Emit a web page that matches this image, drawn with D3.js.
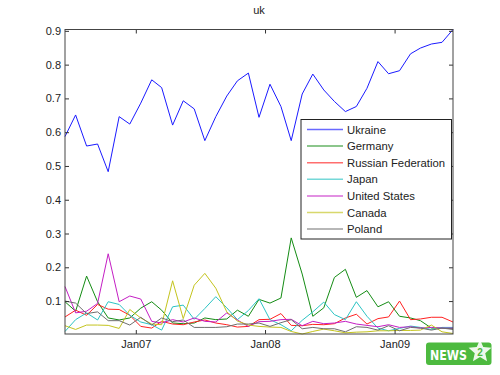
<!DOCTYPE html>
<html>
<head>
<meta charset="utf-8">
<script src="https://cdn.jsdelivr.net/npm/d3@7"></script>
<style>
  body { margin: 0; background: #fff; }
  svg text { font-family: "Liberation Sans", Arial, sans-serif; }
</style>
</head>
<body>
<svg id="chart" width="500" height="375"></svg>
<script>
// monthly values, Jun 2006 - Jun 2009
const months = [
  "2006-06", "2006-07", "2006-08", "2006-09", "2006-10", "2006-11", "2006-12",
  "2007-01", "2007-02", "2007-03", "2007-04", "2007-05", "2007-06", "2007-07",
  "2007-08", "2007-09", "2007-10", "2007-11", "2007-12", "2008-01", "2008-02",
  "2008-03", "2008-04", "2008-05", "2008-06", "2008-07", "2008-08", "2008-09",
  "2008-10", "2008-11", "2008-12", "2009-01", "2009-02", "2009-03", "2009-04",
  "2009-05", "2009-06"
];

const countries = ["Ukraine", "Germany", "Russian Federation", "Japan", "United States", "Canada", "Poland"];

const ukraine = [0.587, 0.651, 0.559, 0.565, 0.483, 0.646, 0.624, 0.686, 0.755, 0.732,
  0.621, 0.693, 0.669, 0.575, 0.646, 0.707, 0.752, 0.775, 0.644, 0.742,
  0.676, 0.575, 0.713, 0.772, 0.725, 0.691, 0.661, 0.676, 0.730, 0.809,
  0.773, 0.782, 0.832, 0.849, 0.861, 0.866, 0.904];

const germany = [0.098, 0.07, 0.174, 0.098, 0.05, 0.044, 0.05, 0.079, 0.098, 0.073,
  0.035, 0.033, 0.035, 0.05, 0.045, 0.047, 0.073, 0.055, 0.105, 0.094,
  0.109, 0.287, 0.18, 0.055, 0.08, 0.17, 0.194, 0.111, 0.131, 0.083,
  0.098, 0.055, 0.05, 0.042, 0.02, 0.02, 0.018];

const russia = [0.053, 0.073, 0.058, 0.09, 0.076, 0.075, 0.058, 0.025, 0.02, 0.04,
  0.032, 0.03, 0.038, 0.044, 0.035, 0.03, 0.023, 0.025, 0.045, 0.046,
  0.063, 0.028, 0.027, 0.031, 0.03, 0.033, 0.05, 0.061, 0.032, 0.048,
  0.053, 0.1, 0.045, 0.047, 0.052, 0.052, 0.038];

const japan = [0.01, 0.045, 0.065, 0.044, 0.098, 0.09, 0.058, 0.038, 0.03, 0.014,
  0.083, 0.088, 0.046, 0.078, 0.113, 0.08, 0.045, 0.072, 0.107, 0.045,
  0.03, 0.012, 0.043, 0.068, 0.097, 0.06, 0.045, 0.098, 0.055, 0.02,
  0.012, 0.019, 0.026, 0.022, 0.016, 0.022, 0.022];

const unitedStates = [0.143, 0.065, 0.07, 0.093, 0.24, 0.098, 0.115, 0.106, 0.04, 0.035,
  0.045, 0.038, 0.05, 0.04, 0.038, 0.065, 0.044, 0.025, 0.039, 0.04,
  0.045, 0.046, 0.027, 0.04, 0.033, 0.035, 0.04, 0.032, 0.028, 0.024,
  0.03, 0.022, 0.024, 0.02, 0.022, 0.02, 0.02];

const canada = [0.027, 0.016, 0.029, 0.029, 0.028, 0.019, 0.075, 0.05, 0.032, 0.03,
  0.16, 0.048, 0.147, 0.182, 0.138, 0.068, 0.041, 0.029, 0.025, 0.023,
  0.022, 0.01, 0.0025, 0.01, 0.017, 0.012, 0.006, 0.008, 0.009, 0.012,
  0.012, 0.013, 0.013, 0.014, 0.029, 0.009, 0.004];

const poland = [0.1, 0.094, 0.063, 0.068, 0.042, 0.042, 0.029, 0.052, 0.029, 0.05,
  0.039, 0.044, 0.022, 0.022, 0.022, 0.024, 0.032, 0.032, 0.035, 0.025,
  0.036, 0.045, 0.018, 0.022, 0.018, 0.018, 0.009, 0.024, 0.022, 0.014,
  0.027, 0.012, 0.022, 0.02, 0.014, 0.02, 0.016];

const yTicks = [0.1, 0.2, 0.3, 0.4, 0.5, 0.6, 0.7, 0.8, 0.9];
const xTickDates = ["2007-01-01", "2008-01-01", "2009-01-01"];
const xTickLabels = ["Jan07", "Jan08", "Jan09"];

const seriesValues = [ukraine, germany, russia, japan, unitedStates, canada, poland];
const colors = ['#1a1aff', '#148c14', '#ff2222', '#2cc4c4', '#c41ec4', '#c4c41e', '#6e6e6e'];

const svg = d3.select('#chart');
const plot = { left: 65, right: 453, top: 29.5, bottom: 334 };

// points sit mid-month
const parseMonth = d3.timeParse('%Y-%m-%d');
const dates = months.map(m => parseMonth(m + '-15'));

const x = d3.scaleTime()
    .domain(d3.extent(dates))
    .range([plot.left, plot.right]);

const y = d3.scaleLinear()
    .domain(d3.extent(seriesValues.flat()))
    .range([plot.bottom, plot.top]);

// plot background
svg.append('rect')
    .attr('x', plot.left).attr('y', plot.top)
    .attr('width', plot.right - plot.left)
    .attr('height', plot.bottom - plot.top)
    .attr('fill', '#fff');

// lines
const line = d3.line()
    .x((d, i) => x(dates[i]))
    .y(d => y(d));

seriesValues.forEach((vals, k) => {
    svg.append('path')
        .datum(vals)
        .attr('d', line)
        .attr('fill', 'none')
        .attr('stroke', colors[k])
        .attr('stroke-width', 1);
});

// axes, ticks pointing inward on all four sides
const tickDates = xTickDates.map(d3.timeParse('%Y-%m-%d'));

const gLeft = svg.append('g')
    .attr('transform', `translate(${plot.left},0)`)
    .call(d3.axisLeft(y).tickValues(yTicks).tickSize(-4).tickPadding(4).tickFormat(d3.format('.1f')));
const gRight = svg.append('g')
    .attr('transform', `translate(${plot.right},0)`)
    .call(d3.axisRight(y).tickValues(yTicks).tickSize(-4).tickFormat(''));
const gBottom = svg.append('g')
    .attr('transform', `translate(0,${plot.bottom})`)
    .call(d3.axisBottom(x).tickValues(tickDates).tickSize(-4).tickPadding(6)
        .tickFormat((d, i) => xTickLabels[i]));
const gTop = svg.append('g')
    .attr('transform', `translate(0,${plot.top})`)
    .call(d3.axisTop(x).tickValues(tickDates).tickSize(-4).tickFormat(''));

[gLeft, gRight, gBottom, gTop].forEach(g => {
    g.select('.domain').remove();
    g.selectAll('line').attr('stroke', '#333');
    g.selectAll('text')
        .attr('fill', '#222')
        .style('font-size', '11px')
        .style('font-family', '"Liberation Sans", Arial, sans-serif');
});

svg.append('rect')
    .attr('x', plot.left).attr('y', plot.top)
    .attr('width', plot.right - plot.left)
    .attr('height', plot.bottom - plot.top)
    .attr('fill', 'none')
    .attr('stroke', '#444')
    .attr('stroke-width', 1);

// title
svg.append('text')
    .attr('x', (plot.left + plot.right) / 2)
    .attr('y', 14)
    .attr('text-anchor', 'middle')
    .attr('fill', '#222')
    .style('font-size', '11px')
    .text('uk');

// legend
const legend = svg.append('g').attr('transform', 'translate(301,119.5)');
legend.append('rect')
    .attr('width', 150.5)
    .attr('height', 119.5)
    .attr('fill', '#fff')
    .attr('stroke', '#222')
    .attr('stroke-width', 1);

countries.forEach((name, k) => {
    const ly = 10 + k * 16.6;
    legend.append('line')
        .attr('x1', 6).attr('x2', 42)
        .attr('y1', ly).attr('y2', ly)
        .attr('stroke', colors[k])
        .attr('stroke-width', 1.5)
        .attr('opacity', 0.65);
    legend.append('text')
        .attr('x', 46)
        .attr('y', ly)
        .attr('dy', '0.36em')
        .attr('fill', '#222')
        .style('font-size', '11.3px')
        .text(name);
});

// NEWS badge in the corner
const badge = svg.append('g').attr('transform', 'translate(426,342.5)');
badge.append('rect')
    .attr('width', 65.5)
    .attr('height', 22.5)
    .attr('rx', 3)
    .attr('fill', '#4dba3f');
badge.append('text')
    .attr('x', 4)
    .attr('y', 17)
    .attr('fill', '#fff')
    .style('font-size', '14px')
    .style('font-weight', 'bold')
    .style('font-family', '"Liberation Sans Narrow", "DejaVu Sans Condensed", Arial, sans-serif')
    .attr('textLength', 37)
    .attr('lengthAdjust', 'spacingAndGlyphs')
    .text('NEWS');
const star = d3.range(10).map(i => {
    const a = -Math.PI / 2 + i * Math.PI / 5;
    const r = i % 2 === 0 ? 12 : 5.5;
    return [54 + r * Math.cos(a), 9 + r * Math.sin(a)];
});
badge.append('path')
    .attr('d', d3.line()(star) + 'Z')
    .attr('fill', '#fff')
    .attr('opacity', 0.9);
badge.append('text')
    .attr('x', 54)
    .attr('y', 13)
    .attr('text-anchor', 'middle')
    .attr('fill', '#4dba3f')
    .style('font-size', '10px')
    .style('font-weight', 'bold')
    .text('2');
</script>
</body>
</html>
